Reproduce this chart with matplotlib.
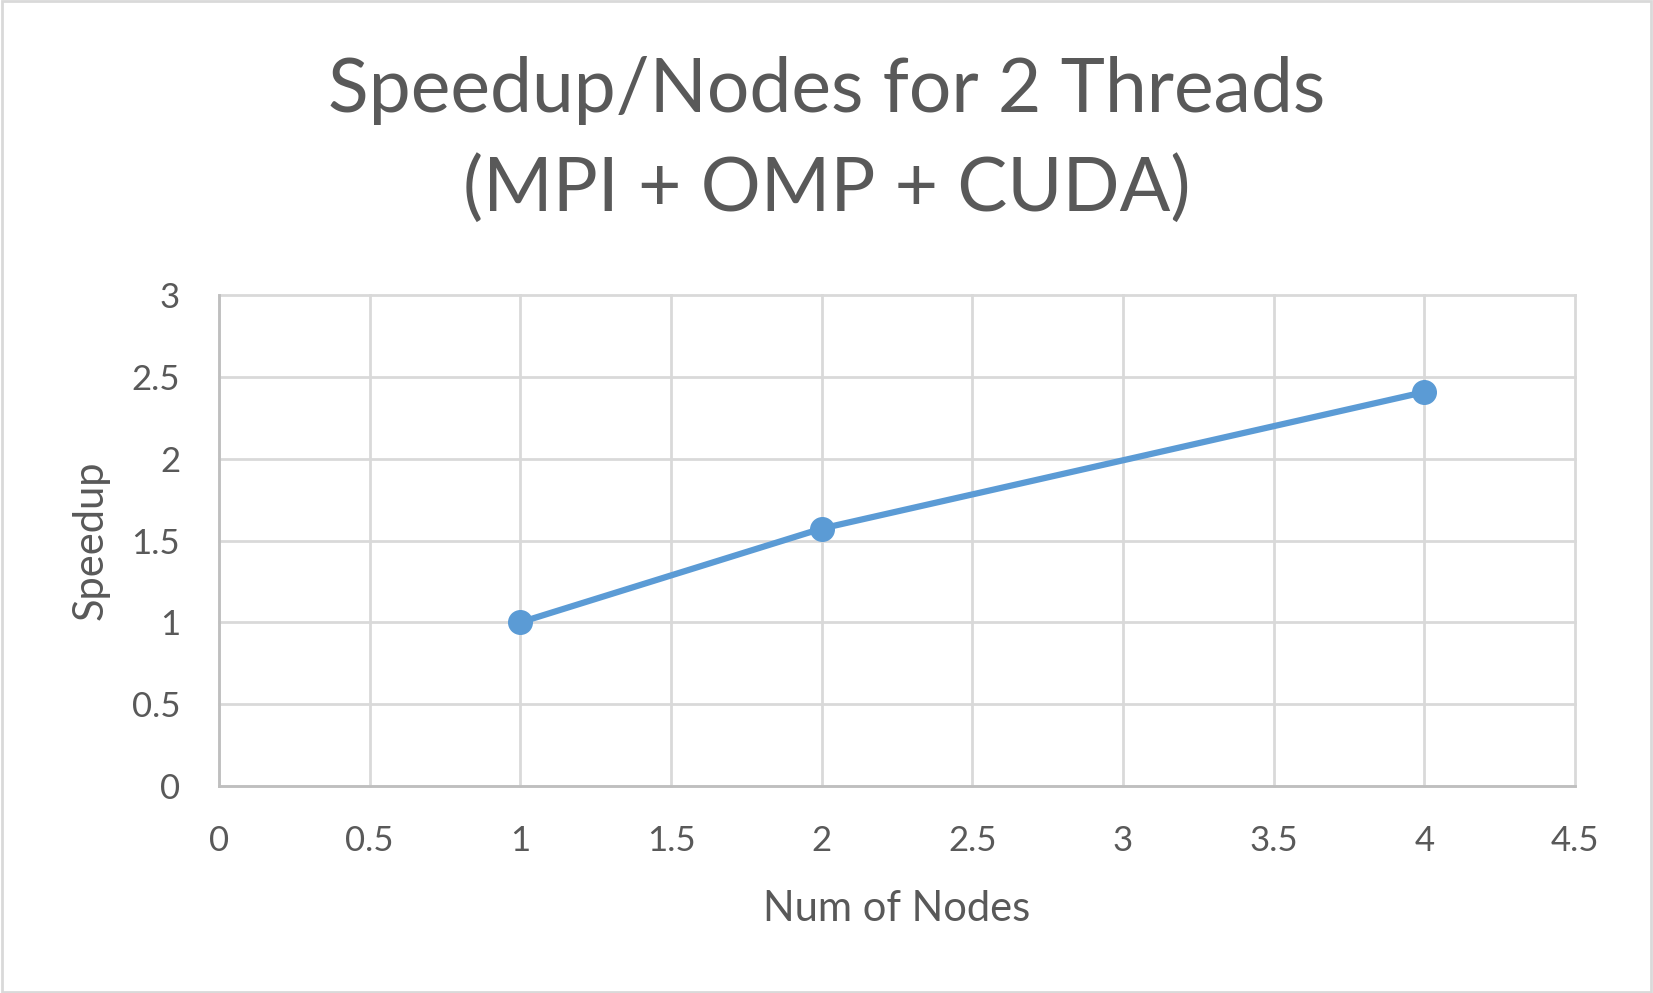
import matplotlib
matplotlib.use("Agg")
import matplotlib.pyplot as plt
from matplotlib.ticker import FuncFormatter

nodes = [1, 2, 4]
speedup = [1.0, 1.573, 2.407]
xticks = [0, 0.5, 1, 1.5, 2, 2.5, 3, 3.5, 4, 4.5]
yticks = [0, 0.5, 1, 1.5, 2, 2.5, 3]

plt.rcParams['font.family'] = ['Lato', 'DejaVu Sans']
txt = '#595959'
grid = '#d9d9d9'
blue = '#5b9bd5'

fig = plt.figure(figsize=(16.53, 9.93), dpi=100)
ax = fig.add_axes([219/1653, 1-786/993, (1575-219)/1653, (786-295)/993])

ax.set_xlim(0, 4.5)
ax.set_ylim(0, 3)
ax.set_xticks(xticks)
ax.set_yticks(yticks)
fmt = FuncFormatter(lambda v, p: f"{v:g}")
ax.xaxis.set_major_formatter(fmt)
ax.yaxis.set_major_formatter(fmt)
ax.grid(True, color=grid, linewidth=2)
ax.set_axisbelow(True)
for s in ['top', 'right']:
    ax.spines[s].set_visible(False)
for s in ['left', 'bottom']:
    ax.spines[s].set_color('#bfbfbf')
    ax.spines[s].set_linewidth(2)
for gl in ax.get_xgridlines() + ax.get_ygridlines():
    gl.set_clip_on(False)
ax.tick_params(length=0, labelsize=25, colors=txt)
ax.tick_params(axis='x', pad=28)
ax.tick_params(axis='y', pad=28)

ax.plot(nodes, speedup, color=blue, linewidth=4.5, marker='o', markersize=17, zorder=3)

ax.set_xlabel('Num of Nodes', fontsize=30, color=txt, labelpad=24)
ax.set_ylabel('Speedup', fontsize=30, color=txt, labelpad=16)

fig.text(0.5, 1-140/993, 'Speedup/Nodes for 2 Threads\n(MPI + OMP + CUDA)', ha='center', va='center',
         fontsize=54, color=txt, linespacing=1.5)

fig.patches.append(plt.Rectangle((0.001, 0.001), 0.998, 0.998, transform=fig.transFigure,
                                 fill=False, edgecolor=grid, linewidth=2))

fig.savefig('out.png', dpi=100, facecolor='white')
